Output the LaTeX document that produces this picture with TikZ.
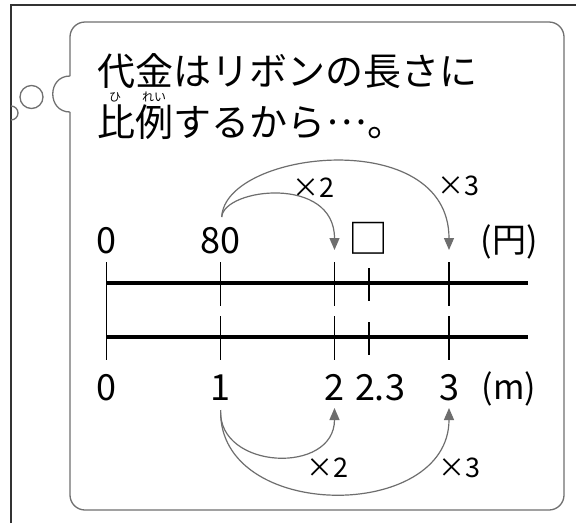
\documentclass[tikz,border=0pt]{standalone}
\usepackage{fontspec}
\setmainfont{Noto Sans CJK JP}
\usetikzlibrary{arrows.meta}
\definecolor{arrowgray}{HTML}{6E6E6E}
\definecolor{bubblegray}{HTML}{707070}
\definecolor{framegray}{HTML}{333333}
\begin{document}
\begin{tikzpicture}[x=1pt,y=-1pt,
  frameline/.style={draw=framegray,line width=1.6pt},
  bubbleline/.style={draw=bubblegray,line width=1.3pt},
  numline/.style={line width=4pt},
  tickline/.style={line width=1.6pt},
  jp/.style={font=\fontsize{38}{38}\selectfont,inner sep=0pt,anchor=base west},
  ruby/.style={font=\fontsize{12}{12}\selectfont,inner sep=0pt,anchor=base},
  num/.style={font=\fontsize{36}{36}\selectfont,inner sep=0pt,anchor=base},
  unitlbl/.style={font=\fontsize{34}{34}\selectfont,inner sep=0pt,anchor=base},
  times/.style={font=\fontsize{27}{27}\selectfont,inner sep=0pt},
  ratio/.style={draw=arrowgray,line width=1.2pt,-{Triangle[length=12pt,width=10pt,fill=arrowgray]}}
]
\useasboundingbox (0,0) rectangle (576,523);
\fill[white] (0,0) rectangle (576,523);
% outer frame
\draw[frameline] (11,523) -- (11,5) -- (576,5);
% thought bubble
\draw[bubbleline,rounded corners=15pt] (70,76) -- (70,22) -- (564,22) -- (564,510) -- (70,510) -- (70,112);
\draw[bubbleline] (70,112) .. controls (47,112) and (47,76) .. (70,76);
\draw[bubbleline] (31.5,97) circle[radius=11.5];
\draw[bubbleline] (11,106) arc[start angle=-90,end angle=90,radius=7];
% text
\node[jp] (line1) at (97,85) {代金はリボンの長さに};
\node[jp] (line2) at (97,136) {比例するから\hspace{1pt}\raisebox{0.3em}{…}\hspace{1pt}。};
\node[ruby] (rhi) at (115,101) {ひ};
\node[ruby] (rrei) at (154,101) {れい};
% number lines
\draw[numline] (106.6,283) -- (528,283);
\draw[numline] (106.6,337) -- (528,337);
\draw[tickline] (106.6,262) -- (106.6,360);
\foreach \x in {220.6,334.5,449} {
  \draw[tickline] (\x,262) -- (\x,306);
  \draw[tickline] (\x,316) -- (\x,360);
}
\draw[tickline] (369,268) -- (369,301);
\draw[tickline] (369,322) -- (369,355);
% top labels
\node[num] (y0) at (106.6,253) {0};
\node[num] (y80) at (220.6,253) {80};
\node[num,font=\fontsize{40}{40}\selectfont] (ybox) at (368.5,253) {□};
\node[unitlbl] (yen) at (509,252) {(円)};
% bottom labels
\node[num] (m0) at (106.6,400) {0};
\node[num] (m1) at (220.6,400) {1};
\node[num] (m2) at (334.5,400) {2};
\node[num] (m23) at (380,400) {2.3};
\node[num] (m3) at (449,400) {3};
\node[unitlbl] (meter) at (509,399) {(m)};
% arrow endpoints
\coordinate (s1) at (221.7,217);
\coordinate (t2) at (334.5,250);
\coordinate (t3) at (449,250);
\coordinate (b1) at (220.6,410);
\coordinate (u2) at (334.5,408);
\coordinate (u3) at (449,408);
\draw[ratio] (s1) .. controls (224,188) and (334.5,175) .. (t2);
\draw[ratio] (s1) .. controls (225,150) and (449,125) .. (t3);
\draw[ratio] (b1) .. controls (218,470) and (334.5,475) .. (u2);
\draw[ratio] (b1) .. controls (218,522) and (449,522) .. (u3);
\node[times] (tx2) at (313,188) {×2};
\node[times] (tx3) at (458,186) {×3};
\node[times] (bx2) at (327,468) {×2};
\node[times] (bx3) at (459,468) {×3};
\end{tikzpicture}
\end{document}
